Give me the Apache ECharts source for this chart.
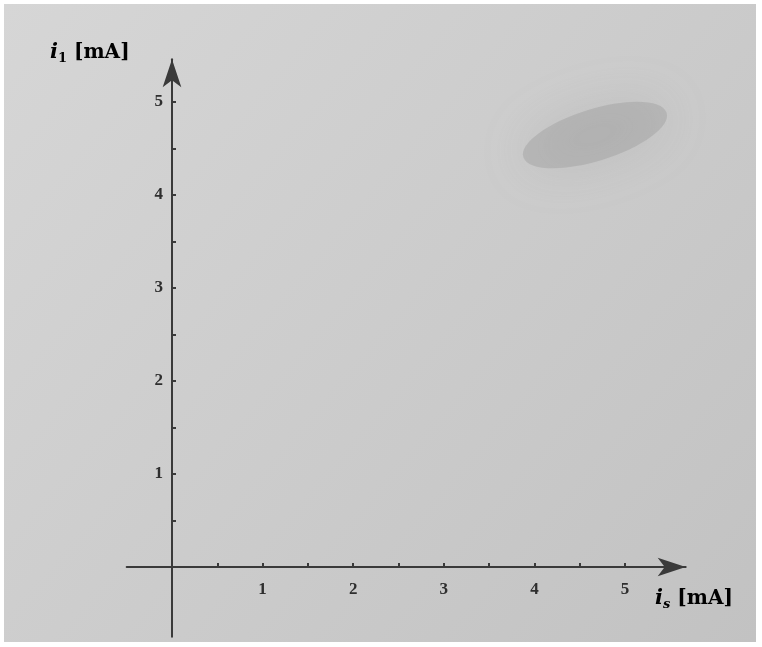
<!DOCTYPE html>
<html>
<head>
<meta charset="utf-8">
<script src="https://cdn.jsdelivr.net/npm/echarts@6/dist/echarts.min.js"></script>
<style>
html,body{margin:0;padding:0;background:#ffffff;}
#chart{width:762px;height:647px;}
</style>
</head>
<body>
<div id="chart"></div>
<script>
// Axis ticks and labels (the reference is an empty coordinate system)
const xTicks = [0.5, 1, 1.5, 2, 2.5, 3, 3.5, 4, 4.5, 5];
const xTickLabels = [1, 2, 3, 4, 5];
const yTicks = [0.5, 1, 1.5, 2, 2.5, 3, 3.5, 4, 4.5, 5];
const yTickLabels = [1, 2, 3, 4, 5];
const xName = 'i';
const xSub = 's';
const yName = 'i';
const ySub = '1';
const unit = ' [mA]';

const X_MIN = -0.5, X_MAX = 5.67, Y_MIN = -0.75, Y_MAX = 5.46;
const PX_X = 90.6, PX_Y = 93;

const chart = echarts.init(document.getElementById('chart'));
const ink = '#3a3a3a';
const labelFont = { color: '#2e2e2e', fontFamily: 'Liberation Serif', fontSize: 17, fontWeight: 'bold' };

const nameRich = (italicSub) => ({
  i: { fontFamily: 'DejaVu Serif', fontStyle: 'italic', fontWeight: 'bold', fontSize: 21, color: '#333' },
  s: { fontFamily: 'DejaVu Serif', fontStyle: italicSub ? 'italic' : 'normal', fontWeight: 'bold', fontSize: 13, color: '#333', padding: [12, 0, 0, 0] },
  u: { fontFamily: 'DejaVu Serif', fontWeight: 'bold', fontSize: 20, color: '#333' }
});

chart.setOption({
  backgroundColor: '#ffffff',
  animation: false,
  graphic: [
    {
      type: 'rect', z: -10, silent: true,
      shape: { x: 4, y: 4, width: 752, height: 638 },
      style: {
        fill: new echarts.graphic.LinearGradient(0, 0, 1, 1, [
          { offset: 0, color: '#d6d6d6' },
          { offset: 0.45, color: '#cdcdcd' },
          { offset: 1, color: '#c2c2c2' }
        ])
      }
    },
    {
      type: 'ellipse', z: -9, silent: true,
      shape: { cx: 595, cy: 135, rx: 75, ry: 26 },
      rotation: 0.3, originX: 595, originY: 135,
      style: { fill: 'rgba(140,140,140,0.3)', shadowBlur: 50, shadowColor: 'rgba(140,140,140,0.7)' }
    },
    {
      type: 'text', left: 50, top: 42,
      style: { text: '{i|' + yName + '}{s|' + ySub + '}{u|' + unit + '}', rich: nameRich(false) }
    },
    {
      type: 'text', left: 655, top: 588,
      style: { text: '{i|' + xName + '}{s|' + xSub + '}{u|' + unit + '}', rich: nameRich(true) }
    }
  ],
  grid: {
    left: 172 + X_MIN * PX_X, top: 567 - Y_MAX * PX_Y,
    width: (X_MAX - X_MIN) * PX_X, height: (Y_MAX - Y_MIN) * PX_Y,
    containLabel: false, outerBoundsMode: 'none'
  },
  xAxis: {
    type: 'value', min: X_MIN, max: X_MAX, position: 'bottom', offset: Y_MIN * PX_Y,
    splitLine: { show: false },
    axisLine: { onZero: false, lineStyle: { color: ink, width: 2 }, symbol: ['none', 'arrow'], symbolSize: [14, 28] },
    axisTick: { show: true, inside: true, length: 4, lineStyle: { color: ink, width: 2 }, customValues: xTicks },
    axisLabel: { show: true, margin: 14, customValues: xTickLabels, ...labelFont }
  },
  yAxis: {
    type: 'value', min: Y_MIN, max: Y_MAX, position: 'left', offset: X_MIN * PX_X,
    splitLine: { show: false },
    axisLine: { onZero: false, lineStyle: { color: ink, width: 2 }, symbol: ['none', 'arrow'], symbolSize: [14, 28] },
    axisTick: { show: true, inside: true, length: 4, lineStyle: { color: ink, width: 2 }, customValues: yTicks },
    axisLabel: { show: true, margin: 9, customValues: yTickLabels, ...labelFont }
  },
  series: []
});
</script>
</body>
</html>
